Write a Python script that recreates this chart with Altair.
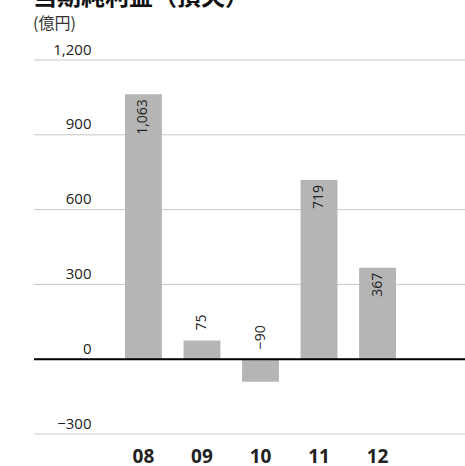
import altair as alt
import pandas as pd

# Net income (loss) by fiscal year, in 100 million yen
years = ["08", "09", "10", "11", "12"]
values = [1063, 75, -90, 719, 367]
y_ticks = [-300, 0, 300, 600, 900, 1200]

df = pd.DataFrame({"year": years, "value": values})
df["anchor"] = df["value"].clip(lower=0)
grid_df = pd.DataFrame({"tick": y_ticks})

NUM_FONT = "Open Sans"
JP_FONT = "Noto Sans CJK JP"
BAR_GRAY = "#b4b5b4"
TEXT = "#222222"

x_scale = alt.Scale(paddingInner=0.37, paddingOuter=0, range=[91, 362])
y_scale = alt.Scale(domain=[-300, 1200], nice=False, zero=False)

x_axis = alt.Axis(
    title=None,
    domain=False,
    ticks=False,
    tickSize=0,
    labelAngle=0,
    labelFont=NUM_FONT,
    labelFontSize=19,
    labelFontWeight="bold",
    labelColor=TEXT,
    labelBaseline="alphabetic",
    labelPadding=28,
)

# value labels sit just above each grid line, inside the plot's left margin
y_axis = alt.Axis(
    title=None,
    values=y_ticks,
    format=",d",
    domain=False,
    ticks=False,
    tickSize=0,
    grid=False,
    labelFont=NUM_FONT,
    labelFontSize=15,
    labelColor=TEXT,
    labelAlign="right",
    labelBaseline="alphabetic",
    labelPadding=-57,
    labelOffset=-6,
)

# horizontal grid lines across the full plot width
grid = alt.Chart(grid_df).mark_rule(color="#c8c8c8", strokeWidth=1).encode(
    y=alt.Y("tick:Q", scale=y_scale, axis=y_axis)
)

bars = alt.Chart(df).mark_bar(color=BAR_GRAY).encode(
    x=alt.X("year:N", sort=years, scale=x_scale, axis=x_axis),
    y=alt.Y("value:Q", scale=y_scale, axis=y_axis),
)

zero_line = alt.Chart(pd.DataFrame({"y": [0]})).mark_rule(
    color="#000000", strokeWidth=2
).encode(y=alt.Y("y:Q", scale=y_scale, axis=y_axis))

# labels inside the tall bars, reading upward, ending near the bar top
inside = alt.Chart(df).transform_filter("datum.value >= 300").mark_text(
    angle=270, align="right", baseline="middle", dx=-5,
    font=NUM_FONT, fontSize=14, color=TEXT,
).encode(
    x=alt.X("year:N", sort=years, scale=x_scale, axis=x_axis),
    y=alt.Y("anchor:Q", scale=y_scale, axis=y_axis),
    text=alt.Text("value:Q", format=",d"),
)

# labels above the short bars / zero line
outside = alt.Chart(df).transform_filter("datum.value < 300").mark_text(
    angle=270, align="left", baseline="middle", dx=10,
    font=NUM_FONT, fontSize=14, color=TEXT,
).encode(
    x=alt.X("year:N", sort=years, scale=x_scale, axis=x_axis),
    y=alt.Y("anchor:Q", scale=y_scale, axis=y_axis),
    text=alt.Text("value:Q", format=",d"),
)

chart = (
    alt.layer(grid, bars, zero_line, inside, outside)
    .properties(
        width=431,
        height=374,
        autosize="none",
        padding={"left": 34, "top": 60, "right": 0, "bottom": 32},
        title=alt.TitleParams(
            text="当期純利益（損失）",
            subtitle="(億円)",
            anchor="start",
            orient="top",
            font=JP_FONT,
            fontSize=24,
            fontWeight="bold",
            color="#111111",
            subtitleFont=JP_FONT,
            subtitleFontSize=16,
            subtitleColor="#333333",
            subtitlePadding=6,
            offset=10,
        ),
    )
    .configure_view(stroke=None)
)

chart.save("out.html", embed_options={"renderer": "svg", "actions": False})
